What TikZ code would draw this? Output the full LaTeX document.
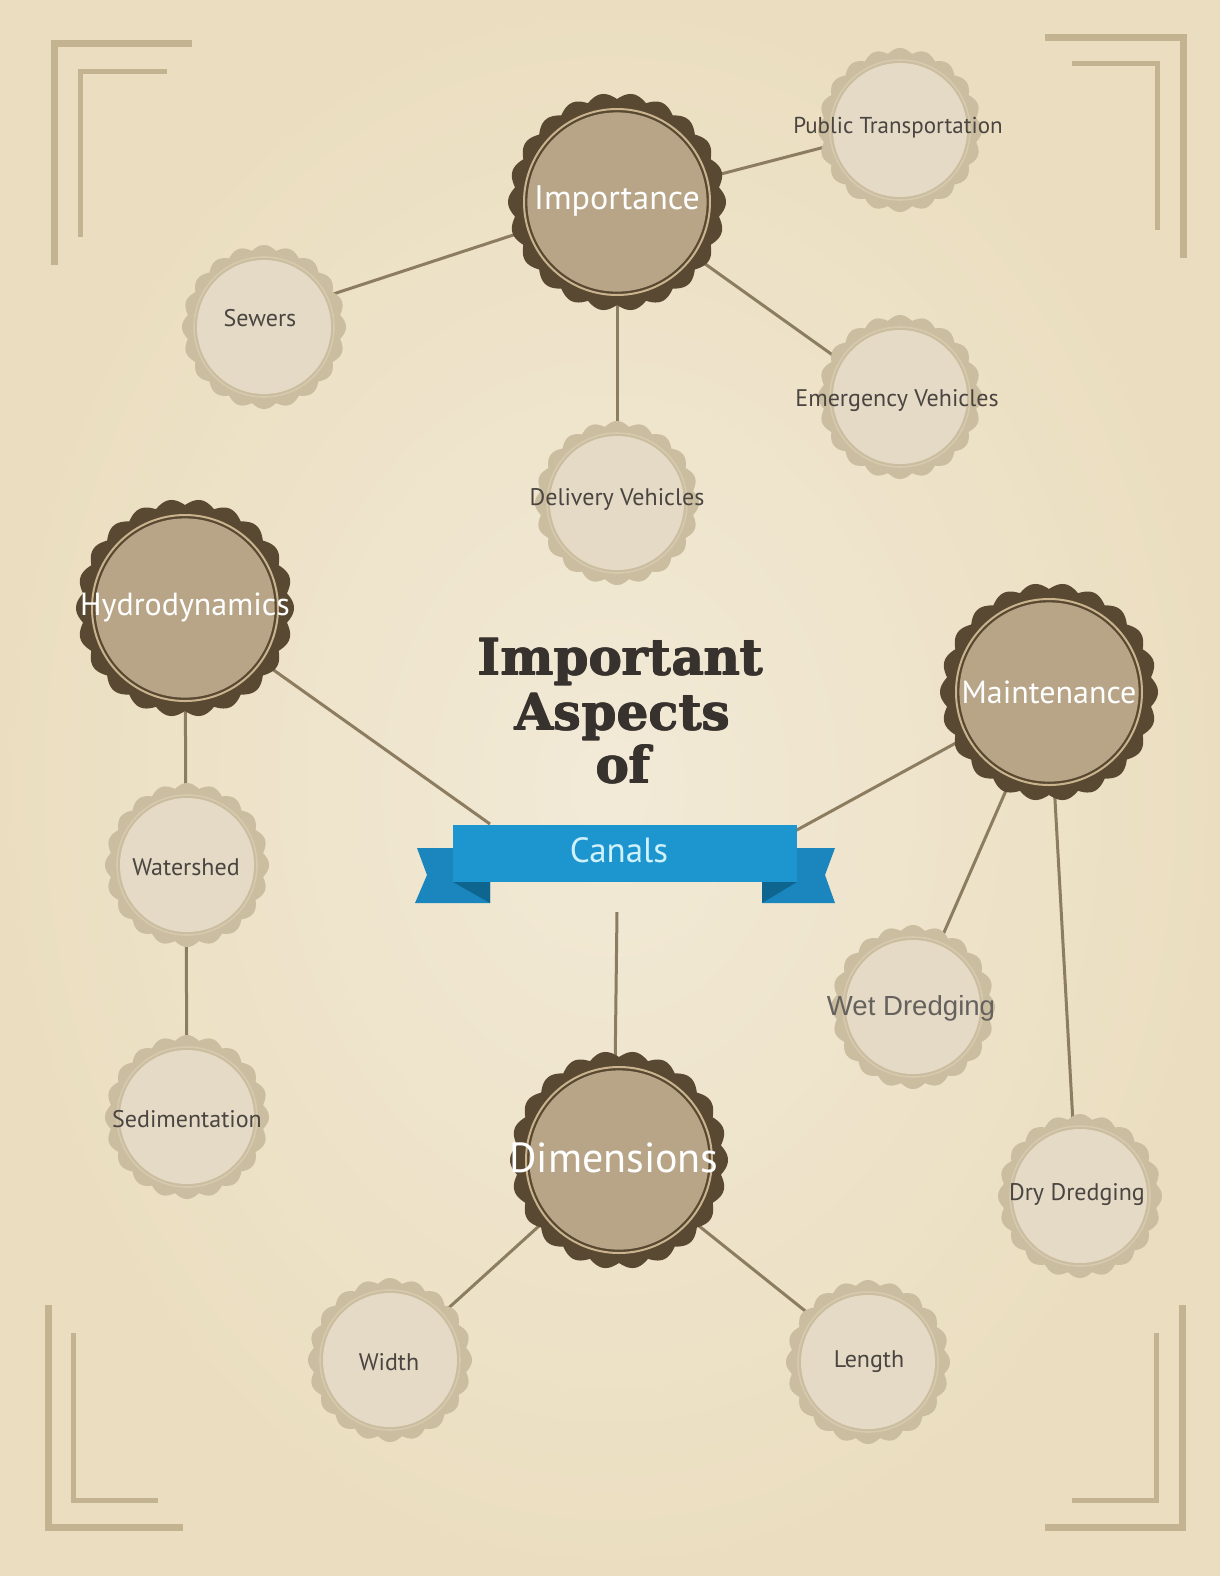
\documentclass[tikz,border=0pt]{standalone}
\usepackage{fontspec}
\setmainfont{PT Sans}
\newfontfamily\titlefont{DejaVu Serif}
\newfontfamily\wetfont{Liberation Sans}
\definecolor{bgin}{HTML}{F2EAD7}
\definecolor{bgout}{HTML}{EBDEC0}
\definecolor{cornercol}{HTML}{C3B391}
\definecolor{linkcol}{HTML}{8C7C60}
\definecolor{capdark}{HTML}{5A4932}
\definecolor{capring}{HTML}{C9B48E}
\definecolor{capmid}{HTML}{B8A587}
\definecolor{caplight}{HTML}{CBBD9F}
\definecolor{capdisc}{HTML}{E4DAC6}
\definecolor{capthin}{HTML}{D6C9AD}
\definecolor{smalltext}{HTML}{4A4540}
\definecolor{titlecol}{HTML}{37322D}
\definecolor{bannermain}{HTML}{1D95CF}
\definecolor{bannertail}{HTML}{1A86BD}
\definecolor{bannerfold}{HTML}{0E6690}
\definecolor{canaltext}{HTML}{CFF1FB}
\pgfdeclarelayer{paper}
\pgfdeclarelayer{links}
\pgfsetlayers{paper,links,main}
\newcommand\darkcap[2]{%
  \fill[capdark] plot[domain=0:360,samples=397,variable=\t]
    ({#1+(103+6*abs(cos(11*\t)))*cos(\t)},{#2+(103+6*abs(cos(11*\t)))*sin(\t)}) -- cycle;
  \draw[capring,line width=1pt] (#1,#2) circle[radius=46.5pt];
  \fill[capmid] (#1,#2) circle[radius=44.8pt];
}
\newcommand\lightcap[2]{%
  \fill[caplight] plot[domain=0:360,samples=361,variable=\t]
    ({#1+(77+5*abs(cos(10*\t)))*cos(\t)},{#2+(77+5*abs(cos(10*\t)))*sin(\t)}) -- cycle;
  \draw[capthin,line width=0.8pt] (#1,#2) circle[radius=35pt];
  \fill[capdisc] (#1,#2) circle[radius=33.5pt];
}
\newcommand\heavytext[1]{\rlap{\kern0.45pt#1}\rlap{\raisebox{0.35pt}{#1}}\rlap{\kern0.45pt\raisebox{0.35pt}{#1}}#1}
\tikzset{
  corner/.style={cornercol,line width=3.5pt,line join=miter},
  cornerin/.style={cornercol,line width=2.5pt,line join=miter},
  link/.style={linkcol,line width=1.5pt},
  bigtxt/.style={text=white,font=\fontsize{17}{20}\selectfont,inner sep=0pt},
  smalltxt/.style={text=smalltext,font=\fontsize{12}{14}\selectfont,inner sep=0pt},
  titletxt/.style={text=titlecol,font=\titlefont\bfseries\fontsize{25}{28}\selectfont,anchor=base,inner sep=0pt},
}
\begin{document}
\begin{tikzpicture}[x=0.5pt,y=-0.5pt]
\useasboundingbox (0,0) rectangle (1220,1576);
\begin{pgfonlayer}{paper}
  \shade[inner color=bgin,outer color=bgout] (0,0) rectangle (1220,1576);
  % corners
  \draw[corner] (54,265) -- (54,43) -- (192,43);
  \draw[cornerin] (80,237) -- (80,71) -- (167,71);
  \draw[corner] (1045,37) -- (1183,37) -- (1183,258);
  \draw[cornerin] (1072,63) -- (1157,63) -- (1157,230);
  \draw[corner] (48,1305) -- (48,1527) -- (183,1527);
  \draw[cornerin] (73,1333) -- (73,1500) -- (158,1500);
  \draw[corner] (1182,1305) -- (1182,1527) -- (1045,1527);
  \draw[cornerin] (1156,1333) -- (1156,1500) -- (1072,1500);
\end{pgfonlayer}

% big caps
\darkcap{617}{202}
\node[bigtxt] (importance) at (617,201) {Importance};
\darkcap{185}{608}
\node[bigtxt,font=\fontsize{16}{19}\selectfont] (hydro) at (185,607) {Hydrodynamics};
\darkcap{1049}{692}
\node[bigtxt,font=\fontsize{16}{19}\selectfont] (maint) at (1049,692) {Maintenance};
\darkcap{619}{1160}
\node[bigtxt,font=\fontsize{21}{24}\selectfont] (dims) at (614,1158) {Dimensions};

% small caps
\lightcap{900}{130}
\node[smalltxt,font=\fontsize{11.5}{14}\selectfont] (pubtrans) at (898,128) {Public Transportation};
\lightcap{264}{327}
\node[smalltxt] (sewers) at (260,318) {Sewers};
\lightcap{900}{397}
\node[smalltxt] (emerg) at (897,401) {Emergency Vehicles};
\lightcap{617}{503}
\node[smalltxt] (deliv) at (617,499) {Delivery Vehicles};
\lightcap{187}{865}
\node[smalltxt] (water) at (186,867) {Watershed};
\lightcap{187}{1117}
\node[smalltxt] (sedim) at (187,1119) {Sedimentation};
\lightcap{913}{1007}
\node[smalltxt,text=smalltext!85!white,font=\wetfont\fontsize{13.8}{16}\selectfont] (wet) at (911,1008) {Wet Dredging};
\lightcap{1080}{1196}
\node[smalltxt] (dry) at (1077,1195) {Dry Dredging};
\lightcap{390}{1360}
\node[smalltxt] (width) at (389,1362) {Width};
\lightcap{868}{1362}
\node[smalltxt] (length) at (869,1362) {Length};

% title
\node[titletxt] (title1) at (620,675) {\heavytext{Important}};
\node[titletxt] (title2) at (622,730) {\heavytext{Aspects}};
\node[titletxt] (title3) at (623,783) {\heavytext{of}};

% banner
\fill[bannertail] (417,848) -- (490,848) -- (490,903) -- (415,903) -- (427,875) -- cycle;
\fill[bannerfold] (453,882) -- (490,882) -- (490,903) -- cycle;
\fill[bannertail] (835,848) -- (762,848) -- (762,903) -- (835,903) -- (825,875) -- cycle;
\fill[bannerfold] (797,882) -- (762,882) -- (762,903) -- cycle;
\node[fill=bannermain,minimum width=172pt,minimum height=28.5pt,inner sep=0pt] (banner) at (625,853.5) {};
\node[text=canaltext,font=\fontsize{17.5}{20}\selectfont,inner sep=0pt] (canals) at (619,850) {Canals};

\coordinate (hydroend) at (490,824);
\coordinate (maintend) at (795,831);
\coordinate (dimsstart) at (617,912);

\begin{pgfonlayer}{links}
  \draw[link] (importance) -- (pubtrans);
  \draw[link] (importance) -- (sewers);
  \draw[link] (importance) -- (emerg);
  \draw[link] (importance) -- (deliv);
  \draw[link] (hydro) -- (hydroend);
  \draw[link] (maint) -- (maintend);
  \draw[link] (maint) -- (wet);
  \draw[link] (maint.center) -- (dry.center);
  \draw[link] (hydro) -- (water);
  \draw[link] (water) -- (sedim);
  \draw[link] (dimsstart) -- (dims);
  \draw[link] (dims) -- (width);
  \draw[link] (dims) -- (length);
\end{pgfonlayer}
\end{tikzpicture}
\end{document}
